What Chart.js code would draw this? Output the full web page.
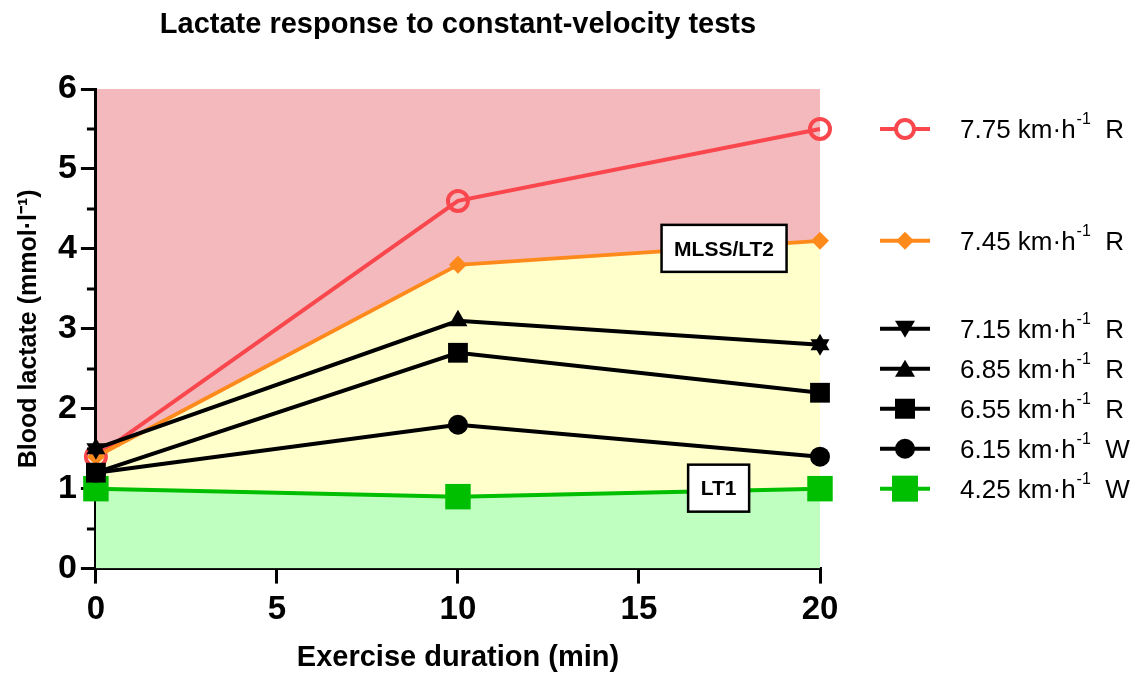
<!DOCTYPE html>
<html>
<head>
<meta charset="utf-8">
<script src="https://cdn.jsdelivr.net/npm/chart.js@4.4.1/dist/chart.umd.min.js"></script>
<style>
  html, body { margin: 0; padding: 0; background: #fff; }
  #wrap { width: 1137px; height: 675px; }
</style>
</head>
<body>
<div id="wrap"><canvas id="chart"></canvas></div>
<script>
// time points (min)
const minutes = [0, 10, 20];

// blood lactate (mmol/l) per test velocity
const v775R = [1.4, 4.6, 5.5];
const v745R = [1.4, 3.8, 4.1];
const v715R = [1.5, null, 2.8];
const v685R = [1.5, 3.1, 2.8];
const v655R = [1.2, 2.7, 2.2];
const v615W = [1.2, 1.8, 1.4];
const v425W = [1.0, 0.9, 1.0];

const speedLabels = ['7.75', '7.45', '7.15', '6.85', '6.55', '6.15', '4.25'];
const modeLabels = ['R', 'R', 'R', 'R', 'R', 'W', 'W'];
const yTicks = [0, 1, 2, 3, 4, 5, 6];
const xTicks = [0, 5, 10, 15, 20];

const RED = '#F9474D';
const ORANGE = '#FF8A1C';
const BLACK = '#000000';
const GREEN = '#00BF00';
const FONT = '"Liberation Sans", Arial, sans-serif';

function pts(vals) {
    return minutes.map((m, i) => ({ x: m, y: vals[i] }));
}

// legend marker shapes
function marker(ctx, style, x, y, color) {
    ctx.save();
    ctx.fillStyle = color;
    ctx.strokeStyle = color;
    ctx.beginPath();
    if (style === 'ring') {
        ctx.lineWidth = 4;
        ctx.arc(x, y, 9, 0, Math.PI * 2);
        ctx.fillStyle = '#fff';
        ctx.fill();
        ctx.stroke();
    } else if (style === 'diamond') {
        ctx.moveTo(x, y - 9); ctx.lineTo(x + 9, y); ctx.lineTo(x, y + 9); ctx.lineTo(x - 9, y);
        ctx.closePath(); ctx.fill();
    } else if (style === 'down') {
        ctx.moveTo(x - 10, y - 8); ctx.lineTo(x + 10, y - 8); ctx.lineTo(x, y + 9);
        ctx.closePath(); ctx.fill();
    } else if (style === 'up') {
        ctx.moveTo(x - 10, y + 8); ctx.lineTo(x + 10, y + 8); ctx.lineTo(x, y - 9);
        ctx.closePath(); ctx.fill();
    } else if (style === 'square') {
        ctx.rect(x - 10, y - 10, 20, 20); ctx.fill();
    } else if (style === 'dot') {
        ctx.arc(x, y, 10, 0, Math.PI * 2); ctx.fill();
    } else if (style === 'bigsquare') {
        ctx.rect(x - 13, y - 13, 26, 26); ctx.fill();
    }
    ctx.restore();
}

const legendStyles = ['ring', 'diamond', 'down', 'up', 'square', 'dot', 'bigsquare'];
const legendColors = [RED, ORANGE, BLACK, BLACK, BLACK, BLACK, GREEN];
// legend rows sit at these lactate levels
const legendLevels = [5.5, 4.1, 3.0, 2.5, 2.0, 1.5, 1.0];

const extras = {
    id: 'extras',
    beforeDraw(chart) {
        const { ctx, chartArea: a } = chart;
        ctx.save();
        ctx.fillStyle = '#F3B9BD';
        ctx.fillRect(a.left, a.top, a.right - a.left, a.bottom - a.top);
        ctx.restore();
    },
    afterDraw(chart) {
        const { ctx, chartArea: a, scales } = chart;
        const ys = scales.y, xs = scales.x;
        ctx.save();
        // title
        ctx.fillStyle = '#000';
        ctx.font = 'bold 29px ' + FONT;
        ctx.textAlign = 'center';
        ctx.textBaseline = 'middle';
        ctx.fillText('Lactate response to constant-velocity tests', (a.left + a.right) / 2, 25);

        // minor y ticks
        ctx.strokeStyle = '#000';
        ctx.lineWidth = 3;
        for (let v = 0.5; v < 6; v += 1) {
            const py = Math.round(ys.getPixelForValue(v));
            ctx.beginPath();
            ctx.moveTo(a.left - 9, py);
            ctx.lineTo(a.left, py);
            ctx.stroke();
        }

        // threshold boxes
        const box = (text, xv, yv, w) => {
            const cx = xs.getPixelForValue(xv), cy = ys.getPixelForValue(yv);
            ctx.fillStyle = '#fff';
            ctx.fillRect(cx - w / 2, cy - 24, w, 47);
            ctx.lineWidth = 2.5;
            ctx.strokeStyle = '#000';
            ctx.strokeRect(cx - w / 2, cy - 24, w, 47);
            ctx.fillStyle = '#000';
            ctx.font = 'bold 21px ' + FONT;
            ctx.textAlign = 'center';
            ctx.textBaseline = 'middle';
            ctx.fillText(text, cx, cy + 1);
        };
        box('MLSS/LT2', 17.35, 4.0, 125);
        box('LT1', 17.2, 1.0, 61);

        // legend
        const lx0 = a.right + 60, lx1 = a.right + 110, tx = a.right + 140;
        legendLevels.forEach((lv, i) => {
            const py = ys.getPixelForValue(lv);
            ctx.strokeStyle = legendColors[i];
            ctx.lineWidth = 4;
            ctx.beginPath();
            ctx.moveTo(lx0, py); ctx.lineTo(lx1, py); ctx.stroke();
            marker(ctx, legendStyles[i], (lx0 + lx1) / 2, py, legendColors[i]);
            ctx.fillStyle = '#000';
            ctx.textAlign = 'left';
            ctx.textBaseline = 'middle';
            ctx.font = '26px ' + FONT;
            const main = speedLabels[i] + ' km\u00B7h';
            ctx.fillText(main, tx, py + 2);
            let w = ctx.measureText(main).width;
            ctx.font = '16px ' + FONT;
            ctx.fillText('-1', tx + w + 1, py - 9);
            w += ctx.measureText('-1').width + 1;
            ctx.font = '26px ' + FONT;
            ctx.fillText('  ' + modeLabels[i], tx + w, py + 2);
        });
        ctx.restore();
    }
};

const base = { showLine: true, tension: 0, borderWidth: 4, clip: false, fill: false };

new Chart(document.getElementById('chart'), {
    type: 'scatter',
    data: {
        datasets: [
            { ...base, label: '7.75 R', data: pts(v775R), borderColor: RED, backgroundColor: 'rgba(0,0,0,0)',
              pointStyle: 'circle', pointRadius: 10, pointBorderWidth: 4, pointBorderColor: RED, order: 6 },
            { ...base, label: '7.45 R', data: pts(v745R), borderColor: ORANGE, backgroundColor: '#FFFFCC',
              pointStyle: 'rectRot', pointRadius: 9, pointBackgroundColor: ORANGE, pointBorderWidth: 0, fill: 6, order: 5 },
            { ...base, label: '7.15 R', data: pts(v715R), borderColor: BLACK, backgroundColor: BLACK, spanGaps: false,
              pointStyle: 'triangle', pointRotation: 180, pointRadius: 11, pointBorderWidth: 0, order: 1 },
            { ...base, label: '6.85 R', data: pts(v685R), borderColor: BLACK, backgroundColor: BLACK,
              pointStyle: 'triangle', pointRadius: 11, pointBorderWidth: 0, order: 1 },
            { ...base, label: '6.55 R', data: pts(v655R), borderColor: BLACK, backgroundColor: BLACK,
              pointStyle: 'rect', pointRadius: 14, pointBorderWidth: 0, order: 1 },
            { ...base, label: '6.15 W', data: pts(v615W), borderColor: BLACK, backgroundColor: BLACK,
              pointStyle: 'circle', pointRadius: 10, pointBorderWidth: 0, order: 1 },
            { ...base, label: '4.25 W', data: pts(v425W), borderColor: GREEN, backgroundColor: '#BFFFBF',
              pointStyle: 'rect', pointRadius: 18, pointBackgroundColor: GREEN, pointBorderWidth: 0, fill: 'origin', order: 2 }
        ]
    },
    options: {
        responsive: true,
        maintainAspectRatio: false,
        animation: false,
        layout: { padding: { top: 89, right: 317, left: 14, bottom: 0 } },
        plugins: {
            legend: { display: false },
            tooltip: { enabled: false },
            filler: { drawTime: 'beforeDatasetsDraw' }
        },
        scales: {
            x: {
                type: 'linear', min: 0, max: 20, z: 1,
                afterBuildTicks: s => { s.ticks = xTicks.map(v => ({ value: v })); },
                border: { color: '#000', width: 3 },
                grid: { drawOnChartArea: false, color: '#000', lineWidth: 3, tickLength: 15 },
                ticks: { color: '#000', padding: 7, font: { size: 33, weight: 'bold', family: FONT } },
                title: { display: true, text: 'Exercise duration (min)', color: '#000', padding: { top: 3, bottom: 0 },
                         font: { size: 29, weight: 'bold', family: FONT } }
            },
            y: {
                type: 'linear', min: 0, max: 6, z: 1,
                afterBuildTicks: s => { s.ticks = yTicks.map(v => ({ value: v })); },
                border: { color: '#000', width: 3 },
                grid: { drawOnChartArea: false, color: '#000', lineWidth: 3, tickLength: 15 },
                ticks: { color: '#000', padding: 4, font: { size: 34, weight: 'bold', family: FONT } },
                title: { display: true, text: 'Blood lactate (mmol\u00B7l\u207B\u00B9)', color: '#000', padding: { top: 0, bottom: 10 },
                         font: { size: 25, weight: 'bold', family: FONT } }
            }
        }
    },
    plugins: [extras]
});
</script>
</body>
</html>
